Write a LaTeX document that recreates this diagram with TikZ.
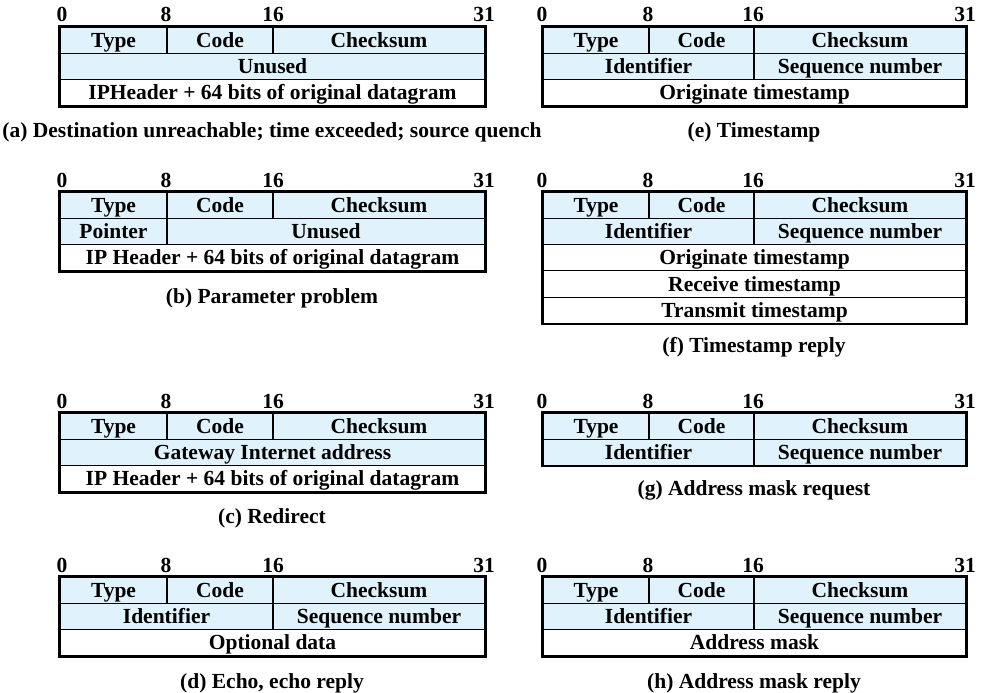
\documentclass[tikz,border=0pt]{standalone}
\usepackage{fontspec}
\setmainfont{Liberation Serif}
\definecolor{cellblue}{RGB}{224,242,252}
\tikzset{
  every node/.style={font=\fontsize{21.5}{25}\selectfont\bfseries},
  cellbase/.style={draw=black, line width=1.1pt, inner sep=0pt, text height=14pt, text depth=0pt, anchor=center},
  bcell/.style={cellbase, fill=cellblue},
  wcell/.style={cellbase, fill=white},
  outerframe/.style={draw=black, line width=2.4pt},
  bitlbl/.style={anchor=base, inner sep=0pt},
  captxt/.style={anchor=base, inner sep=0pt}
}
\newcommand{\fcell}[7]{%
  \node[#6, minimum width={(#4-#2)*1pt}, minimum height={(#5-#3)*1pt}] (#1) at ({(#2+#4)/2},{(#3+#5)/2}) {#7};}
\begin{document}
\begin{tikzpicture}[x=1pt,y=-1pt]
\useasboundingbox (0,0) rectangle (986,693);
% ---------- (a)
\fcell{aT}{60}{27}{167}{53.3}{bcell}{Type}
\fcell{aC}{167}{27}{273}{53.3}{bcell}{Code}
\fcell{aS}{273}{27}{485}{53.3}{bcell}{Checksum}
\fcell{aU}{60}{53.3}{485}{79.6}{bcell}{Unused}
\fcell{aI}{60}{79.6}{485}{105.9}{wcell}{IPHeader + 64 bits of original datagram}
\draw[outerframe] (aT.north west) rectangle (aI.south east);
\node[bitlbl] (a0) at (62,22) {0};
\node[bitlbl] (a8) at (166,22) {8};
\node[bitlbl] (a16) at (273,22) {16};
\node[bitlbl] (a31) at (484,22) {31};
\node[captxt] (acap) at (272,137) {(a) Destination unreachable; time exceeded; source quench};
% ---------- (e)
\fcell{eT}{543}{27}{649}{53.3}{bcell}{Type}
\fcell{eC}{649}{27}{754}{53.3}{bcell}{Code}
\fcell{eS}{754}{27}{966}{53.3}{bcell}{Checksum}
\fcell{eI}{543}{53.3}{754}{79.6}{bcell}{Identifier}
\fcell{eQ}{754}{53.3}{966}{79.6}{bcell}{Sequence number}
\fcell{eO}{543}{79.6}{966}{105.9}{wcell}{Originate timestamp}
\draw[outerframe] (eT.north west) rectangle (eO.south east);
\node[bitlbl] (e0) at (542,22) {0};
\node[bitlbl] (e8) at (648,22) {8};
\node[bitlbl] (e16) at (753,22) {16};
\node[bitlbl] (e31) at (965,22) {31};
\node[captxt] (ecap) at (754,137) {(e) Timestamp};
% ---------- (b)
\fcell{bT}{60}{192}{167}{218.3}{bcell}{Type}
\fcell{bC}{167}{192}{273}{218.3}{bcell}{Code}
\fcell{bS}{273}{192}{485}{218.3}{bcell}{Checksum}
\fcell{bP}{60}{218.3}{167}{244.6}{bcell}{Pointer}
\fcell{bU}{167}{218.3}{485}{244.6}{bcell}{Unused}
\fcell{bI}{60}{244.6}{485}{270.9}{wcell}{IP Header + 64 bits of original datagram}
\draw[outerframe] (bT.north west) rectangle (bI.south east);
\node[bitlbl] (b0) at (62,187) {0};
\node[bitlbl] (b8) at (166,187) {8};
\node[bitlbl] (b16) at (273,187) {16};
\node[bitlbl] (b31) at (484,187) {31};
\node[captxt] (bcap) at (272,303) {(b) Parameter problem};
% ---------- (f)
\fcell{fT}{543}{192}{649}{218.3}{bcell}{Type}
\fcell{fC}{649}{192}{754}{218.3}{bcell}{Code}
\fcell{fS}{754}{192}{966}{218.3}{bcell}{Checksum}
\fcell{fI}{543}{218.3}{754}{244.6}{bcell}{Identifier}
\fcell{fQ}{754}{218.3}{966}{244.6}{bcell}{Sequence number}
\fcell{fO}{543}{244.6}{966}{270.9}{wcell}{Originate timestamp}
\fcell{fR}{543}{270.9}{966}{297.2}{wcell}{Receive timestamp}
\fcell{fX}{543}{297.2}{966}{323.5}{wcell}{Transmit timestamp}
\draw[outerframe] (fT.north west) rectangle (fX.south east);
\node[bitlbl] (f0) at (542,187) {0};
\node[bitlbl] (f8) at (648,187) {8};
\node[bitlbl] (f16) at (753,187) {16};
\node[bitlbl] (f31) at (965,187) {31};
\node[captxt] (fcap) at (754,352) {(f) Timestamp reply};
% ---------- (c)
\fcell{cT}{60}{413}{167}{439.3}{bcell}{Type}
\fcell{cC}{167}{413}{273}{439.3}{bcell}{Code}
\fcell{cS}{273}{413}{485}{439.3}{bcell}{Checksum}
\fcell{cG}{60}{439.3}{485}{465.6}{bcell}{Gateway Internet address}
\fcell{cI}{60}{465.6}{485}{491.9}{wcell}{IP Header + 64 bits of original datagram}
\draw[outerframe] (cT.north west) rectangle (cI.south east);
\node[bitlbl] (c0) at (62,408) {0};
\node[bitlbl] (c8) at (166,408) {8};
\node[bitlbl] (c16) at (273,408) {16};
\node[bitlbl] (c31) at (484,408) {31};
\node[captxt] (ccap) at (272,523) {(c) Redirect};
% ---------- (g)
\fcell{gT}{543}{413}{649}{439.3}{bcell}{Type}
\fcell{gC}{649}{413}{754}{439.3}{bcell}{Code}
\fcell{gS}{754}{413}{966}{439.3}{bcell}{Checksum}
\fcell{gI}{543}{439.3}{754}{465.6}{bcell}{Identifier}
\fcell{gQ}{754}{439.3}{966}{465.6}{bcell}{Sequence number}
\draw[outerframe] (gT.north west) rectangle (gQ.south east);
\node[bitlbl] (g0) at (542,408) {0};
\node[bitlbl] (g8) at (648,408) {8};
\node[bitlbl] (g16) at (753,408) {16};
\node[bitlbl] (g31) at (965,408) {31};
\node[captxt] (gcap) at (754,495) {(g) Address mask request};
% ---------- (d)
\fcell{dT}{60}{577}{167}{603.3}{bcell}{Type}
\fcell{dC}{167}{577}{273}{603.3}{bcell}{Code}
\fcell{dS}{273}{577}{485}{603.3}{bcell}{Checksum}
\fcell{dI}{60}{603.3}{273}{629.6}{bcell}{Identifier}
\fcell{dQ}{273}{603.3}{485}{629.6}{bcell}{Sequence number}
\fcell{dO}{60}{629.6}{485}{655.9}{wcell}{Optional data}
\draw[outerframe] (dT.north west) rectangle (dO.south east);
\node[bitlbl] (d0) at (62,572) {0};
\node[bitlbl] (d8) at (166,572) {8};
\node[bitlbl] (d16) at (273,572) {16};
\node[bitlbl] (d31) at (484,572) {31};
\node[captxt] (dcap) at (272,688) {(d) Echo, echo reply};
% ---------- (h)
\fcell{hT}{543}{577}{649}{603.3}{bcell}{Type}
\fcell{hC}{649}{577}{754}{603.3}{bcell}{Code}
\fcell{hS}{754}{577}{966}{603.3}{bcell}{Checksum}
\fcell{hI}{543}{603.3}{754}{629.6}{bcell}{Identifier}
\fcell{hQ}{754}{603.3}{966}{629.6}{bcell}{Sequence number}
\fcell{hA}{543}{629.6}{966}{655.9}{wcell}{Address mask}
\draw[outerframe] (hT.north west) rectangle (hA.south east);
\node[bitlbl] (h0) at (542,572) {0};
\node[bitlbl] (h8) at (648,572) {8};
\node[bitlbl] (h16) at (753,572) {16};
\node[bitlbl] (h31) at (965,572) {31};
\node[captxt] (hcap) at (754,688) {(h) Address mask reply};
\end{tikzpicture}
\end{document}
